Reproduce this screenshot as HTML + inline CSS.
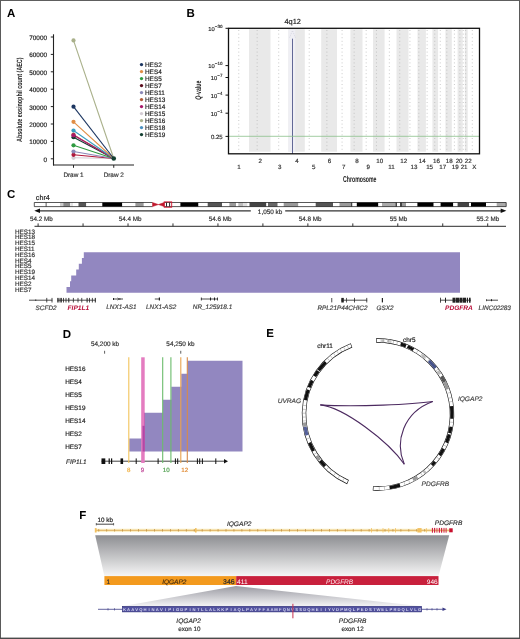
<!DOCTYPE html>
<html><head><meta charset="utf-8"><style>
html,body{margin:0;padding:0;background:#fff;}
body{width:520px;height:639px;overflow:hidden;}
svg{display:block;font-family:"Liberation Sans", sans-serif;text-rendering:geometricPrecision;will-change:transform;}
</style></head><body>
<svg width="520" height="639" viewBox="0 0 520 639">
<text x="7.00" y="17.00" font-size="11.5" font-weight="bold" fill="#000">A</text>
<line x1="53.50" y1="34.30" x2="53.50" y2="165.50" stroke="#222" stroke-width="1.1"/>
<line x1="53.00" y1="165.00" x2="134.00" y2="165.00" stroke="#222" stroke-width="1.1"/>
<line x1="50.80" y1="158.80" x2="53.50" y2="158.80" stroke="#222" stroke-width="1"/>
<text x="47.00" y="161.80" font-size="6.4" text-anchor="end" fill="#222" stroke="#222" stroke-width="0.18">0</text>
<line x1="50.80" y1="141.40" x2="53.50" y2="141.40" stroke="#222" stroke-width="1"/>
<text x="47.00" y="144.40" font-size="6.4" text-anchor="end" fill="#222" stroke="#222" stroke-width="0.18">10000</text>
<line x1="50.80" y1="124.00" x2="53.50" y2="124.00" stroke="#222" stroke-width="1"/>
<text x="47.00" y="127.00" font-size="6.4" text-anchor="end" fill="#222" stroke="#222" stroke-width="0.18">20000</text>
<line x1="50.80" y1="106.60" x2="53.50" y2="106.60" stroke="#222" stroke-width="1"/>
<text x="47.00" y="109.60" font-size="6.4" text-anchor="end" fill="#222" stroke="#222" stroke-width="0.18">30000</text>
<line x1="50.80" y1="89.20" x2="53.50" y2="89.20" stroke="#222" stroke-width="1"/>
<text x="47.00" y="92.20" font-size="6.4" text-anchor="end" fill="#222" stroke="#222" stroke-width="0.18">40000</text>
<line x1="50.80" y1="71.80" x2="53.50" y2="71.80" stroke="#222" stroke-width="1"/>
<text x="47.00" y="74.80" font-size="6.4" text-anchor="end" fill="#222" stroke="#222" stroke-width="0.18">50000</text>
<line x1="50.80" y1="54.40" x2="53.50" y2="54.40" stroke="#222" stroke-width="1"/>
<text x="47.00" y="57.40" font-size="6.4" text-anchor="end" fill="#222" stroke="#222" stroke-width="0.18">60000</text>
<line x1="50.80" y1="37.00" x2="53.50" y2="37.00" stroke="#222" stroke-width="1"/>
<text x="47.00" y="40.00" font-size="6.4" text-anchor="end" fill="#222" stroke="#222" stroke-width="0.18">70000</text>
<line x1="73.50" y1="165.00" x2="73.50" y2="167.80" stroke="#222" stroke-width="1"/>
<line x1="113.75" y1="165.00" x2="113.75" y2="167.80" stroke="#222" stroke-width="1"/>
<text x="73.50" y="176.70" font-size="6.4" text-anchor="middle" fill="#333" stroke="#333" stroke-width="0.18">Draw 1</text>
<text x="113.75" y="176.70" font-size="6.4" text-anchor="middle" fill="#333" stroke="#333" stroke-width="0.18">Draw 2</text>
<text x="0" y="0" font-size="7.6" font-weight="bold" fill="#222" text-anchor="middle" textLength="84.5" lengthAdjust="spacingAndGlyphs" transform="translate(22.1,99.75) rotate(-90)">Absolute eosinophil count (AEC)</text>
<line x1="73.50" y1="40.40" x2="113.75" y2="158.50" stroke="#a9b08a" stroke-width="1.1"/>
<line x1="73.50" y1="157.80" x2="113.75" y2="158.50" stroke="#d4ccd4" stroke-width="1.1"/>
<line x1="73.50" y1="154.80" x2="113.75" y2="158.50" stroke="#b0183c" stroke-width="1.1"/>
<line x1="73.50" y1="151.50" x2="113.75" y2="158.50" stroke="#8a88b8" stroke-width="1.1"/>
<line x1="73.50" y1="145.30" x2="113.75" y2="158.50" stroke="#2e9a40" stroke-width="1.1"/>
<line x1="73.50" y1="137.20" x2="113.75" y2="158.50" stroke="#123e30" stroke-width="1.1"/>
<line x1="73.50" y1="134.60" x2="113.75" y2="158.50" stroke="#b05a38" stroke-width="1.1"/>
<line x1="73.50" y1="135.30" x2="113.75" y2="158.50" stroke="#a8186a" stroke-width="1.1"/>
<line x1="73.50" y1="130.50" x2="113.75" y2="158.50" stroke="#3a9ec0" stroke-width="1.1"/>
<line x1="73.50" y1="121.80" x2="113.75" y2="158.50" stroke="#e08d45" stroke-width="1.1"/>
<line x1="73.50" y1="106.70" x2="113.75" y2="158.50" stroke="#1b3560" stroke-width="1.1"/>
<circle cx="73.50" cy="40.40" r="2.1" fill="#a9b08a"/>
<circle cx="73.50" cy="157.80" r="2.1" fill="#d4ccd4"/>
<circle cx="73.50" cy="154.80" r="2.1" fill="#b0183c"/>
<circle cx="73.50" cy="151.50" r="2.1" fill="#8a88b8"/>
<circle cx="73.50" cy="145.30" r="2.1" fill="#2e9a40"/>
<circle cx="73.50" cy="137.20" r="2.1" fill="#123e30"/>
<circle cx="73.50" cy="134.60" r="2.1" fill="#b05a38"/>
<circle cx="73.50" cy="135.30" r="2.1" fill="#a8186a"/>
<circle cx="73.50" cy="130.50" r="2.1" fill="#3a9ec0"/>
<circle cx="73.50" cy="121.80" r="2.1" fill="#e08d45"/>
<circle cx="73.50" cy="106.70" r="2.1" fill="#1b3560"/>
<circle cx="113.75" cy="158.50" r="2.3" fill="#123e30"/>
<circle cx="141.50" cy="64.60" r="1.65" fill="#1b3560"/>
<text x="145.00" y="66.90" font-size="6.4" fill="#222" stroke="#222" stroke-width="0.18">HES2</text>
<circle cx="141.50" cy="71.60" r="1.65" fill="#e08d45"/>
<text x="145.00" y="73.90" font-size="6.4" fill="#222" stroke="#222" stroke-width="0.18">HES4</text>
<circle cx="141.50" cy="78.60" r="1.65" fill="#2e9a40"/>
<text x="145.00" y="80.90" font-size="6.4" fill="#222" stroke="#222" stroke-width="0.18">HES5</text>
<circle cx="141.50" cy="85.60" r="1.65" fill="#5a0c1c"/>
<text x="145.00" y="87.90" font-size="6.4" fill="#222" stroke="#222" stroke-width="0.18">HES7</text>
<circle cx="141.50" cy="92.60" r="1.65" fill="#8a88b8"/>
<text x="145.00" y="94.90" font-size="6.4" fill="#222" stroke="#222" stroke-width="0.18">HES11</text>
<circle cx="141.50" cy="99.60" r="1.65" fill="#b05a38"/>
<text x="145.00" y="101.90" font-size="6.4" fill="#222" stroke="#222" stroke-width="0.18">HES13</text>
<circle cx="141.50" cy="106.60" r="1.65" fill="#a8186a"/>
<text x="145.00" y="108.90" font-size="6.4" fill="#222" stroke="#222" stroke-width="0.18">HES14</text>
<circle cx="141.50" cy="113.60" r="1.65" fill="#d4ccd4"/>
<text x="145.00" y="115.90" font-size="6.4" fill="#222" stroke="#222" stroke-width="0.18">HES15</text>
<circle cx="141.50" cy="120.60" r="1.65" fill="#a9b08a"/>
<text x="145.00" y="122.90" font-size="6.4" fill="#222" stroke="#222" stroke-width="0.18">HES16</text>
<circle cx="141.50" cy="127.60" r="1.65" fill="#4a90c0"/>
<text x="145.00" y="129.90" font-size="6.4" fill="#222" stroke="#222" stroke-width="0.18">HES18</text>
<circle cx="141.50" cy="134.60" r="1.65" fill="#123e30"/>
<text x="145.00" y="136.90" font-size="6.4" fill="#222" stroke="#222" stroke-width="0.18">HES19</text>
<text x="186.50" y="17.00" font-size="11.5" font-weight="bold" fill="#000">B</text>
<rect x="249.00" y="29.20" width="21.50" height="122.50" fill="#e9e9e9"/>
<rect x="288.30" y="29.20" width="16.50" height="122.50" fill="#e9e9e9"/>
<rect x="321.20" y="29.20" width="15.80" height="122.50" fill="#e9e9e9"/>
<rect x="350.40" y="29.20" width="12.10" height="122.50" fill="#e9e9e9"/>
<rect x="373.00" y="29.20" width="11.60" height="122.50" fill="#e9e9e9"/>
<rect x="396.50" y="29.20" width="12.00" height="122.50" fill="#e9e9e9"/>
<rect x="417.50" y="29.20" width="8.40" height="122.50" fill="#e9e9e9"/>
<rect x="432.40" y="29.20" width="5.70" height="122.50" fill="#e9e9e9"/>
<rect x="445.40" y="29.20" width="6.40" height="122.50" fill="#e9e9e9"/>
<rect x="457.60" y="29.20" width="5.10" height="122.50" fill="#e9e9e9"/>
<rect x="464.80" y="29.20" width="2.90" height="122.50" fill="#e9e9e9"/>
<line x1="238.75" y1="30.00" x2="238.75" y2="152.00" stroke="#b4b4b4" stroke-width="0.7" stroke-dasharray="1,2.6"/>
<line x1="257.17" y1="30.00" x2="257.17" y2="152.00" stroke="#b4b4b4" stroke-width="0.7" stroke-dasharray="1,2.6"/>
<line x1="278.69" y1="30.00" x2="278.69" y2="152.00" stroke="#b4b4b4" stroke-width="0.7" stroke-dasharray="1,2.6"/>
<line x1="292.59" y1="30.00" x2="292.59" y2="152.00" stroke="#b4b4b4" stroke-width="0.7" stroke-dasharray="1,2.6"/>
<line x1="309.23" y1="30.00" x2="309.23" y2="152.00" stroke="#b4b4b4" stroke-width="0.7" stroke-dasharray="1,2.6"/>
<line x1="326.89" y1="30.00" x2="326.89" y2="152.00" stroke="#b4b4b4" stroke-width="0.7" stroke-dasharray="1,2.6"/>
<line x1="342.09" y1="30.00" x2="342.09" y2="152.00" stroke="#b4b4b4" stroke-width="0.7" stroke-dasharray="1,2.6"/>
<line x1="354.15" y1="30.00" x2="354.15" y2="152.00" stroke="#b4b4b4" stroke-width="0.7" stroke-dasharray="1,2.6"/>
<line x1="366.18" y1="30.00" x2="366.18" y2="152.00" stroke="#b4b4b4" stroke-width="0.7" stroke-dasharray="1,2.6"/>
<line x1="376.48" y1="30.00" x2="376.48" y2="152.00" stroke="#b4b4b4" stroke-width="0.7" stroke-dasharray="1,2.6"/>
<line x1="389.36" y1="30.00" x2="389.36" y2="152.00" stroke="#b4b4b4" stroke-width="0.7" stroke-dasharray="1,2.6"/>
<line x1="399.74" y1="30.00" x2="399.74" y2="152.00" stroke="#b4b4b4" stroke-width="0.7" stroke-dasharray="1,2.6"/>
<line x1="409.94" y1="30.00" x2="409.94" y2="152.00" stroke="#b4b4b4" stroke-width="0.7" stroke-dasharray="1,2.6"/>
<line x1="418.84" y1="30.00" x2="418.84" y2="152.00" stroke="#b4b4b4" stroke-width="0.7" stroke-dasharray="1,2.6"/>
<line x1="427.13" y1="30.00" x2="427.13" y2="152.00" stroke="#b4b4b4" stroke-width="0.7" stroke-dasharray="1,2.6"/>
<line x1="434.74" y1="30.00" x2="434.74" y2="152.00" stroke="#b4b4b4" stroke-width="0.7" stroke-dasharray="1,2.6"/>
<line x1="440.29" y1="30.00" x2="440.29" y2="152.00" stroke="#b4b4b4" stroke-width="0.7" stroke-dasharray="1,2.6"/>
<line x1="446.81" y1="30.00" x2="446.81" y2="152.00" stroke="#b4b4b4" stroke-width="0.7" stroke-dasharray="1,2.6"/>
<line x1="454.41" y1="30.00" x2="454.41" y2="152.00" stroke="#b4b4b4" stroke-width="0.7" stroke-dasharray="1,2.6"/>
<line x1="459.84" y1="30.00" x2="459.84" y2="152.00" stroke="#b4b4b4" stroke-width="0.7" stroke-dasharray="1,2.6"/>
<line x1="463.27" y1="30.00" x2="463.27" y2="152.00" stroke="#b4b4b4" stroke-width="0.7" stroke-dasharray="1,2.6"/>
<line x1="465.64" y1="30.00" x2="465.64" y2="152.00" stroke="#b4b4b4" stroke-width="0.7" stroke-dasharray="1,2.6"/>
<line x1="472.30" y1="30.00" x2="472.30" y2="152.00" stroke="#b4b4b4" stroke-width="0.7" stroke-dasharray="1,2.6"/>
<rect x="288.30" y="29.20" width="7.00" height="122.50" fill="#efeff4"/>
<line x1="292.50" y1="38.70" x2="292.50" y2="153.80" stroke="#5a6090" stroke-width="0.95"/>
<path d="M289.6,37.5 L292.5,30.6 L295.4,37.5" fill="none" stroke="#c4c4d4" stroke-width="0.6" stroke-dasharray="1,1"/>
<line x1="228.50" y1="136.30" x2="479.50" y2="136.30" stroke="#8cc08c" stroke-width="0.8"/>
<rect x="228.5" y="28.3" width="251.0" height="125.50000000000001" fill="none" stroke="#111" stroke-width="1.3"/>
<text x="292.70" y="24.20" font-size="7.4" text-anchor="middle" fill="#222" stroke="#222" stroke-width="0.18">4q12</text>
<line x1="225.50" y1="28.30" x2="228.50" y2="28.30" stroke="#111" stroke-width="1"/>
<text x="222.4" y="30.80" font-size="5.8" text-anchor="end" fill="#222" stroke="#222" stroke-width="0.15">10<tspan font-size="4.5" dy="-3">&#8722;30</tspan></text>
<line x1="225.50" y1="65.60" x2="228.50" y2="65.60" stroke="#111" stroke-width="1"/>
<text x="222.4" y="68.10" font-size="5.8" text-anchor="end" fill="#222" stroke="#222" stroke-width="0.15">10<tspan font-size="4.5" dy="-3">&#8722;10</tspan></text>
<line x1="225.50" y1="77.50" x2="228.50" y2="77.50" stroke="#111" stroke-width="1"/>
<text x="222.4" y="80.00" font-size="5.8" text-anchor="end" fill="#222" stroke="#222" stroke-width="0.15">10<tspan font-size="4.5" dy="-3">&#8722;7</tspan></text>
<line x1="225.50" y1="95.10" x2="228.50" y2="95.10" stroke="#111" stroke-width="1"/>
<text x="222.4" y="97.60" font-size="5.8" text-anchor="end" fill="#222" stroke="#222" stroke-width="0.15">10<tspan font-size="4.5" dy="-3">&#8722;4</tspan></text>
<line x1="225.50" y1="113.20" x2="228.50" y2="113.20" stroke="#111" stroke-width="1"/>
<text x="222.4" y="115.70" font-size="5.8" text-anchor="end" fill="#222" stroke="#222" stroke-width="0.15">10<tspan font-size="4.5" dy="-3">&#8722;1</tspan></text>
<line x1="225.50" y1="136.40" x2="228.50" y2="136.40" stroke="#111" stroke-width="1"/>
<text x="222.70" y="138.70" font-size="6" text-anchor="end" fill="#333" stroke="#333" stroke-width="0.18">0.25</text>
<text x="0" y="0" font-size="8.2" font-weight="bold" fill="#222" text-anchor="middle" textLength="19.1" lengthAdjust="spacingAndGlyphs" transform="translate(201.4,90.2) rotate(-90)"><tspan font-style="italic">Q</tspan>-value</text>
<text x="239.00" y="169.10" font-size="6.2" text-anchor="middle" fill="#333" stroke="#333" stroke-width="0.18">1</text>
<text x="260.20" y="162.60" font-size="6.2" text-anchor="middle" fill="#333" stroke="#333" stroke-width="0.18">2</text>
<text x="279.80" y="169.10" font-size="6.2" text-anchor="middle" fill="#333" stroke="#333" stroke-width="0.18">3</text>
<text x="297.00" y="162.60" font-size="6.2" text-anchor="middle" fill="#333" stroke="#333" stroke-width="0.18">4</text>
<text x="313.80" y="169.10" font-size="6.2" text-anchor="middle" fill="#333" stroke="#333" stroke-width="0.18">5</text>
<text x="329.40" y="162.60" font-size="6.2" text-anchor="middle" fill="#333" stroke="#333" stroke-width="0.18">6</text>
<text x="343.80" y="169.10" font-size="6.2" text-anchor="middle" fill="#333" stroke="#333" stroke-width="0.18">7</text>
<text x="357.10" y="162.60" font-size="6.2" text-anchor="middle" fill="#333" stroke="#333" stroke-width="0.18">8</text>
<text x="368.30" y="169.10" font-size="6.2" text-anchor="middle" fill="#333" stroke="#333" stroke-width="0.18">9</text>
<text x="379.80" y="162.60" font-size="6.2" text-anchor="middle" fill="#333" stroke="#333" stroke-width="0.18">10</text>
<text x="391.50" y="169.10" font-size="6.2" text-anchor="middle" fill="#333" stroke="#333" stroke-width="0.18">11</text>
<text x="403.70" y="162.60" font-size="6.2" text-anchor="middle" fill="#333" stroke="#333" stroke-width="0.18">12</text>
<text x="414.00" y="169.10" font-size="6.2" text-anchor="middle" fill="#333" stroke="#333" stroke-width="0.18">13</text>
<text x="422.30" y="162.60" font-size="6.2" text-anchor="middle" fill="#333" stroke="#333" stroke-width="0.18">14</text>
<text x="429.60" y="169.10" font-size="6.2" text-anchor="middle" fill="#333" stroke="#333" stroke-width="0.18">15</text>
<text x="436.50" y="162.60" font-size="6.2" text-anchor="middle" fill="#333" stroke="#333" stroke-width="0.18">16</text>
<text x="442.80" y="169.10" font-size="6.2" text-anchor="middle" fill="#333" stroke="#333" stroke-width="0.18">17</text>
<text x="449.20" y="162.60" font-size="6.2" text-anchor="middle" fill="#333" stroke="#333" stroke-width="0.18">18</text>
<text x="455.30" y="169.10" font-size="6.2" text-anchor="middle" fill="#333" stroke="#333" stroke-width="0.18">19</text>
<text x="459.10" y="162.60" font-size="6.2" text-anchor="middle" fill="#333" stroke="#333" stroke-width="0.18">20</text>
<text x="464.10" y="169.10" font-size="6.2" text-anchor="middle" fill="#333" stroke="#333" stroke-width="0.18">21</text>
<text x="468.20" y="162.60" font-size="6.2" text-anchor="middle" fill="#333" stroke="#333" stroke-width="0.18">22</text>
<text x="474.30" y="169.10" font-size="6.2" text-anchor="middle" fill="#333" stroke="#333" stroke-width="0.18">X</text>
<text x="359.8" y="181.9" font-size="8.6" font-weight="bold" fill="#222" text-anchor="middle" textLength="33.4" lengthAdjust="spacingAndGlyphs">Chromosome</text>
<text x="7.00" y="198.00" font-size="11.5" font-weight="bold" fill="#000">C</text>
<text x="35.80" y="200.10" font-size="7.2" fill="#222" stroke="#222" stroke-width="0.18">chr4</text>
<rect x="34.30" y="202.50" width="11.10" height="4.10" fill="#fff"/>
<rect x="45.40" y="202.50" width="1.60" height="4.10" fill="#999"/>
<rect x="47.00" y="202.50" width="13.00" height="4.10" fill="#fff"/>
<rect x="60.00" y="202.50" width="3.30" height="4.10" fill="#ccc"/>
<rect x="63.30" y="202.50" width="7.10" height="4.10" fill="#888"/>
<rect x="70.40" y="202.50" width="1.20" height="4.10" fill="#fff"/>
<rect x="71.60" y="202.50" width="1.00" height="4.10" fill="#bbb"/>
<rect x="72.60" y="202.50" width="5.90" height="4.10" fill="#fff"/>
<rect x="78.50" y="202.50" width="7.90" height="4.10" fill="#555"/>
<rect x="86.20" y="202.50" width="16.10" height="4.10" fill="#fff"/>
<rect x="102.30" y="202.50" width="20.00" height="4.10" fill="#000"/>
<rect x="122.30" y="202.50" width="13.10" height="4.10" fill="#fff"/>
<rect x="135.40" y="202.50" width="8.40" height="4.10" fill="#999"/>
<rect x="143.80" y="202.50" width="8.70" height="4.10" fill="#fff"/>
<rect x="164.20" y="202.50" width="7.50" height="4.10" fill="#fff"/>
<rect x="171.70" y="202.50" width="8.70" height="4.10" fill="#fff"/>
<rect x="180.40" y="202.50" width="18.10" height="4.10" fill="#000"/>
<rect x="198.50" y="202.50" width="9.20" height="4.10" fill="#fff"/>
<rect x="207.70" y="202.50" width="14.40" height="4.10" fill="#555"/>
<rect x="222.10" y="202.50" width="7.30" height="4.10" fill="#fff"/>
<rect x="229.40" y="202.50" width="6.60" height="4.10" fill="#999"/>
<rect x="236.00" y="202.50" width="2.30" height="4.10" fill="#fff"/>
<rect x="238.30" y="202.50" width="5.10" height="4.10" fill="#bbb"/>
<rect x="243.40" y="202.50" width="4.10" height="4.10" fill="#ddd"/>
<rect x="247.50" y="202.50" width="2.00" height="4.10" fill="#fff"/>
<rect x="249.50" y="202.50" width="16.90" height="4.10" fill="#444"/>
<rect x="266.40" y="202.50" width="1.60" height="4.10" fill="#fff"/>
<rect x="268.00" y="202.50" width="9.70" height="4.10" fill="#666"/>
<rect x="277.70" y="202.50" width="6.00" height="4.10" fill="#fff"/>
<rect x="283.70" y="202.50" width="14.70" height="4.10" fill="#999"/>
<rect x="298.40" y="202.50" width="17.30" height="4.10" fill="#fff"/>
<rect x="315.70" y="202.50" width="17.30" height="4.10" fill="#555"/>
<rect x="333.00" y="202.50" width="6.50" height="4.10" fill="#fff"/>
<rect x="339.50" y="202.50" width="11.30" height="4.10" fill="#999"/>
<rect x="350.80" y="202.50" width="1.70" height="4.10" fill="#444"/>
<rect x="352.50" y="202.50" width="4.30" height="4.10" fill="#fff"/>
<rect x="356.80" y="202.50" width="21.60" height="4.10" fill="#000"/>
<rect x="378.40" y="202.50" width="3.60" height="4.10" fill="#fff"/>
<rect x="382.00" y="202.50" width="13.40" height="4.10" fill="#aaa"/>
<rect x="395.40" y="202.50" width="1.60" height="4.10" fill="#444"/>
<rect x="397.00" y="202.50" width="3.00" height="4.10" fill="#fff"/>
<rect x="400.00" y="202.50" width="2.00" height="4.10" fill="#444"/>
<rect x="402.00" y="202.50" width="4.00" height="4.10" fill="#999"/>
<rect x="406.00" y="202.50" width="11.40" height="4.10" fill="#fff"/>
<rect x="417.40" y="202.50" width="16.30" height="4.10" fill="#000"/>
<rect x="433.70" y="202.50" width="6.90" height="4.10" fill="#fff"/>
<rect x="440.60" y="202.50" width="12.70" height="4.10" fill="#000"/>
<rect x="453.30" y="202.50" width="4.30" height="4.10" fill="#fff"/>
<rect x="457.60" y="202.50" width="11.40" height="4.10" fill="#444"/>
<rect x="469.00" y="202.50" width="1.50" height="4.10" fill="#fff"/>
<rect x="470.00" y="202.50" width="1.00" height="4.10" fill="#fff"/>
<rect x="471.00" y="202.50" width="15.00" height="4.10" fill="#000"/>
<rect x="486.00" y="202.50" width="10.70" height="4.10" fill="#fff"/>
<rect x="496.70" y="202.50" width="9.50" height="4.10" fill="#aaa"/>
<path d="M152.5,202.5 L34.3,202.5 L34.3,206.6 L152.5,206.6 M164.2,202.5 L506.2,202.5 L506.2,206.6 L164.2,206.6" fill="none" stroke="#111" stroke-width="0.7"/>
<path d="M152.5,202.5 L158.4,204.55 L152.5,206.6 Z M164.2,202.5 L158.4,204.55 L164.2,206.6 Z" fill="#c0182c" stroke="#c0182c" stroke-width="0.5"/>
<rect x="166.00" y="202.50" width="0.90" height="4.10" fill="#111"/>
<rect x="169.20" y="202.50" width="0.90" height="4.10" fill="#111"/>
<rect x="164.2" y="201.9" width="7.5" height="5.2999999999999945" fill="none" stroke="#d0102a" stroke-width="0.9"/>
<line x1="37.00" y1="210.80" x2="250.80" y2="210.80" stroke="#333" stroke-width="1.2"/>
<line x1="285.20" y1="210.80" x2="503.00" y2="210.80" stroke="#333" stroke-width="1.2"/>
<path d="M34.3,210.8 L40,208.60000000000002 L40,213.0 Z" fill="#111"/>
<path d="M506.4,210.8 L500.7,208.60000000000002 L500.7,213.0 Z" fill="#111"/>
<text x="270.10" y="213.60" font-size="6.4" text-anchor="middle" fill="#333" stroke="#333" stroke-width="0.18">1,050 kb</text>
<line x1="34.50" y1="226.40" x2="506.00" y2="226.40" stroke="#555" stroke-width="1.4"/>
<line x1="38.10" y1="226.40" x2="38.10" y2="223.40" stroke="#333" stroke-width="1.0"/>
<text x="41.50" y="221.00" font-size="6.3" text-anchor="middle" fill="#333" stroke="#333" stroke-width="0.18">54.2 Mb</text>
<line x1="83.06" y1="226.40" x2="83.06" y2="223.40" stroke="#333" stroke-width="1.0"/>
<line x1="128.02" y1="226.40" x2="128.02" y2="223.40" stroke="#333" stroke-width="1.0"/>
<text x="130.15" y="221.00" font-size="6.3" text-anchor="middle" fill="#333" stroke="#333" stroke-width="0.18">54.4 Mb</text>
<line x1="172.98" y1="226.40" x2="172.98" y2="223.40" stroke="#333" stroke-width="1.0"/>
<line x1="217.94" y1="226.40" x2="217.94" y2="223.40" stroke="#333" stroke-width="1.0"/>
<text x="220.25" y="221.00" font-size="6.3" text-anchor="middle" fill="#333" stroke="#333" stroke-width="0.18">54.6 Mb</text>
<line x1="262.90" y1="226.40" x2="262.90" y2="223.40" stroke="#333" stroke-width="1.0"/>
<line x1="307.86" y1="226.40" x2="307.86" y2="223.40" stroke="#333" stroke-width="1.0"/>
<text x="310.25" y="221.00" font-size="6.3" text-anchor="middle" fill="#333" stroke="#333" stroke-width="0.18">54.8 Mb</text>
<line x1="352.82" y1="226.40" x2="352.82" y2="223.40" stroke="#333" stroke-width="1.0"/>
<line x1="397.78" y1="226.40" x2="397.78" y2="223.40" stroke="#333" stroke-width="1.0"/>
<text x="398.50" y="221.00" font-size="6.3" text-anchor="middle" fill="#333" stroke="#333" stroke-width="0.18">55 Mb</text>
<line x1="442.74" y1="226.40" x2="442.74" y2="223.40" stroke="#333" stroke-width="1.0"/>
<line x1="487.70" y1="226.40" x2="487.70" y2="223.40" stroke="#333" stroke-width="1.0"/>
<text x="488.00" y="221.00" font-size="6.3" text-anchor="middle" fill="#333" stroke="#333" stroke-width="0.18">55.2 Mb</text>
<text x="15.00" y="233.50" font-size="6.3" fill="#333" stroke="#333" stroke-width="0.18">HES13</text>
<text x="15.00" y="239.30" font-size="6.3" fill="#333" stroke="#333" stroke-width="0.18">HES18</text>
<text x="15.00" y="245.10" font-size="6.3" fill="#333" stroke="#333" stroke-width="0.18">HES15</text>
<text x="15.00" y="250.90" font-size="6.3" fill="#333" stroke="#333" stroke-width="0.18">HES11</text>
<text x="15.00" y="256.70" font-size="6.3" fill="#333" stroke="#333" stroke-width="0.18">HES16</text>
<text x="15.00" y="262.50" font-size="6.3" fill="#333" stroke="#333" stroke-width="0.18">HES4</text>
<text x="15.00" y="268.30" font-size="6.3" fill="#333" stroke="#333" stroke-width="0.18">HES5</text>
<text x="15.00" y="274.10" font-size="6.3" fill="#333" stroke="#333" stroke-width="0.18">HES19</text>
<text x="15.00" y="279.90" font-size="6.3" fill="#333" stroke="#333" stroke-width="0.18">HES14</text>
<text x="15.00" y="285.70" font-size="6.3" fill="#333" stroke="#333" stroke-width="0.18">HES2</text>
<text x="15.00" y="291.50" font-size="6.3" fill="#333" stroke="#333" stroke-width="0.18">HES7</text>
<path d="M460,252.3 L83.8,252.3 L83.8,252.30 L83.8,258.07 L81.9,258.07 L81.9,263.84 L78.8,263.84 L78.8,269.61 L76.2,269.61 L76.2,275.38 L71.2,275.38 L71.2,281.15 L70,281.15 L70,286.92 L66.5,286.92 L66.5,292.69 L460,292.69 Z" fill="#9287c0"/>
<line x1="29.00" y1="300.20" x2="52.40" y2="300.20" stroke="#222" stroke-width="0.8"/>
<rect x="46.40" y="297.90" width="0.80" height="4.60" fill="#222"/>
<rect x="51.60" y="297.90" width="0.80" height="4.60" fill="#222"/>
<rect x="35.40" y="299.40" width="0.80" height="1.60" fill="#222"/>
<line x1="57.50" y1="300.20" x2="95.70" y2="300.20" stroke="#222" stroke-width="0.8"/>
<rect x="57.30" y="297.90" width="1.30" height="4.60" fill="#222"/>
<rect x="59.60" y="297.90" width="1.00" height="4.60" fill="#222"/>
<rect x="61.00" y="297.90" width="0.80" height="4.60" fill="#222"/>
<rect x="63.00" y="297.90" width="0.80" height="4.60" fill="#222"/>
<rect x="65.60" y="297.90" width="0.80" height="4.60" fill="#222"/>
<rect x="68.30" y="297.90" width="1.00" height="4.60" fill="#222"/>
<rect x="72.90" y="297.90" width="0.80" height="4.60" fill="#222"/>
<rect x="77.60" y="297.90" width="0.80" height="4.60" fill="#222"/>
<rect x="81.40" y="297.90" width="0.80" height="4.60" fill="#222"/>
<rect x="86.60" y="297.90" width="1.00" height="4.60" fill="#222"/>
<rect x="89.10" y="297.90" width="0.80" height="4.60" fill="#222"/>
<rect x="91.90" y="297.90" width="0.80" height="4.60" fill="#222"/>
<rect x="94.80" y="297.90" width="1.00" height="4.60" fill="#222"/>
<line x1="113.00" y1="299.00" x2="123.00" y2="299.00" stroke="#222" stroke-width="0.8"/>
<rect x="113.00" y="298.00" width="1.00" height="2.00" fill="#222"/>
<rect x="119.50" y="298.00" width="0.80" height="2.00" fill="#222"/>
<path d="M117.5,297.8 L119,299.0 L117.5,300.2" fill="none" stroke="#222" stroke-width="0.6"/>
<line x1="154.80" y1="299.00" x2="160.00" y2="299.00" stroke="#222" stroke-width="0.8"/>
<rect x="158.80" y="297.50" width="1.20" height="3.00" fill="#222"/>
<line x1="200.90" y1="299.00" x2="218.00" y2="299.00" stroke="#222" stroke-width="0.8"/>
<rect x="200.90" y="297.50" width="0.80" height="3.00" fill="#222"/>
<rect x="210.00" y="297.50" width="1.00" height="3.00" fill="#222"/>
<rect x="214.00" y="297.50" width="1.00" height="3.00" fill="#222"/>
<rect x="217.20" y="297.50" width="0.80" height="3.00" fill="#222"/>
<rect x="331.40" y="298.00" width="0.80" height="4.40" fill="#222"/>
<line x1="341.30" y1="300.20" x2="367.20" y2="300.20" stroke="#222" stroke-width="0.8"/>
<rect x="341.30" y="297.90" width="2.50" height="4.60" fill="#222"/>
<rect x="346.30" y="297.90" width="0.70" height="4.60" fill="#222"/>
<rect x="354.00" y="297.90" width="0.80" height="4.60" fill="#222"/>
<rect x="366.40" y="297.90" width="0.80" height="4.60" fill="#222"/>
<rect x="381.80" y="298.00" width="1.20" height="4.40" fill="#222"/>
<line x1="440.20" y1="300.20" x2="471.00" y2="300.20" stroke="#222" stroke-width="0.8"/>
<rect x="440.20" y="297.70" width="0.80" height="5.00" fill="#222"/>
<rect x="445.00" y="297.70" width="1.00" height="5.00" fill="#222"/>
<rect x="452.50" y="297.70" width="3.00" height="5.00" fill="#222"/>
<rect x="455.90" y="297.70" width="3.10" height="5.00" fill="#222"/>
<rect x="459.40" y="297.70" width="3.10" height="5.00" fill="#222"/>
<rect x="462.90" y="297.70" width="3.10" height="5.00" fill="#222"/>
<rect x="466.80" y="297.70" width="1.20" height="5.00" fill="#222"/>
<rect x="469.00" y="297.70" width="1.60" height="5.00" fill="#222"/>
<line x1="486.30" y1="300.20" x2="498.00" y2="300.20" stroke="#222" stroke-width="0.8"/>
<rect x="486.30" y="299.20" width="0.70" height="2.00" fill="#222"/>
<rect x="491.00" y="299.20" width="1.00" height="2.00" fill="#222"/>
<text x="35.60" y="309.60" font-size="6.4" font-style="italic" fill="#444" stroke="#444" stroke-width="0.18">SCFD2</text>
<text x="67.60" y="309.60" font-size="6.6" font-weight="bold" font-style="italic" fill="#b8103a">FIP1L1</text>
<text x="106.30" y="309.40" font-size="6.4" font-style="italic" fill="#444" stroke="#444" stroke-width="0.18">LNX1-AS1</text>
<text x="146.00" y="309.40" font-size="6.4" font-style="italic" fill="#444" stroke="#444" stroke-width="0.18">LNX1-AS2</text>
<text x="192.80" y="309.40" font-size="6.4" font-style="italic" fill="#444" stroke="#444" stroke-width="0.18">NR_125918.1</text>
<text x="317.40" y="309.60" font-size="6.4" font-style="italic" fill="#444" stroke="#444" stroke-width="0.18">RPL21P44CHIC2</text>
<text x="376.50" y="309.60" font-size="6.4" font-style="italic" fill="#444" stroke="#444" stroke-width="0.18">GSX2</text>
<text x="445.00" y="309.60" font-size="6.6" font-weight="bold" font-style="italic" fill="#b8103a">PDGFRA</text>
<text x="478.60" y="309.60" font-size="6.4" font-style="italic" fill="#444" stroke="#444" stroke-width="0.18">LINC02283</text>
<text x="62.70" y="338.10" font-size="11.5" font-weight="bold" fill="#000">D</text>
<text x="105.00" y="346.40" font-size="6.4" text-anchor="middle" fill="#333" stroke="#333" stroke-width="0.18">54,200 kb</text>
<text x="180.40" y="346.40" font-size="6.4" text-anchor="middle" fill="#333" stroke="#333" stroke-width="0.18">54,250 kb</text>
<line x1="104.60" y1="350.80" x2="104.60" y2="353.70" stroke="#333" stroke-width="0.8"/>
<line x1="180.75" y1="350.80" x2="180.75" y2="353.70" stroke="#333" stroke-width="0.8"/>
<text x="65.20" y="371.30" font-size="6.4" fill="#222" stroke="#222" stroke-width="0.18">HES16</text>
<text x="65.20" y="384.30" font-size="6.4" fill="#222" stroke="#222" stroke-width="0.18">HES4</text>
<text x="65.20" y="397.30" font-size="6.4" fill="#222" stroke="#222" stroke-width="0.18">HES5</text>
<text x="65.20" y="410.30" font-size="6.4" fill="#222" stroke="#222" stroke-width="0.18">HES19</text>
<text x="65.20" y="423.30" font-size="6.4" fill="#222" stroke="#222" stroke-width="0.18">HES14</text>
<text x="65.20" y="436.30" font-size="6.4" fill="#222" stroke="#222" stroke-width="0.18">HES2</text>
<text x="65.20" y="449.30" font-size="6.4" fill="#222" stroke="#222" stroke-width="0.18">HES7</text>
<path d="M242.5,360.8 L187.5,360.8 L187.5,360.80 L187.5,373.76 L181.25,373.76 L181.25,386.72 L171.25,386.72 L171.25,399.68 L163,399.68 L163,412.64 L144.25,412.64 L144.25,425.60 L142.5,425.60 L142.5,438.56 L129.25,438.56 L129.25,451.52 L242.5,451.52 Z" fill="#9287c0"/>
<line x1="101.50" y1="461.20" x2="225.00" y2="461.20" stroke="#111" stroke-width="0.8"/>
<path d="M228,461.2 L224,459.0 L224,463.4 Z" fill="#111"/>
<rect x="101.50" y="458.40" width="3.80" height="5.60" fill="#111"/>
<rect x="108.60" y="458.40" width="1.20" height="5.60" fill="#111"/>
<rect x="111.00" y="458.40" width="1.20" height="5.60" fill="#111"/>
<rect x="120.50" y="458.40" width="2.60" height="5.60" fill="#111"/>
<rect x="135.70" y="458.40" width="1.00" height="5.60" fill="#111"/>
<rect x="157.60" y="458.40" width="1.00" height="5.60" fill="#111"/>
<rect x="174.90" y="458.40" width="1.00" height="5.60" fill="#111"/>
<rect x="177.20" y="458.40" width="1.00" height="5.60" fill="#111"/>
<rect x="196.90" y="458.40" width="1.00" height="5.60" fill="#111"/>
<rect x="199.20" y="458.40" width="1.00" height="5.60" fill="#111"/>
<rect x="201.90" y="458.40" width="1.00" height="5.60" fill="#111"/>
<rect x="215.30" y="458.40" width="1.00" height="5.60" fill="#111"/>
<rect x="141.2" y="357.3" width="3.5" height="105.7" fill="#e47cc0"/>
<rect x="142.5" y="425.8" width="2.3" height="25.7" fill="#b248a6"/>
<rect x="144.25" y="412.8" width="0.55" height="13" fill="#b248a6"/>
<line x1="128.80" y1="357.30" x2="128.80" y2="463.00" stroke="#f2c35a" stroke-width="1.1"/>
<line x1="162.70" y1="357.30" x2="162.70" y2="463.00" stroke="#6cbc6c" stroke-width="1.1"/>
<line x1="170.90" y1="357.30" x2="170.90" y2="463.00" stroke="#6cbc6c" stroke-width="1.1"/>
<line x1="180.80" y1="357.30" x2="180.80" y2="463.00" stroke="#eaa24c" stroke-width="1.1"/>
<line x1="187.30" y1="357.30" x2="187.30" y2="463.00" stroke="#d88a48" stroke-width="1.1"/>
<text x="128.80" y="472.30" font-size="6.2" text-anchor="middle" fill="#f0b040" stroke="#f0b040" stroke-width="0.18">8</text>
<text x="142.60" y="472.30" font-size="6.2" text-anchor="middle" fill="#c04898" stroke="#c04898" stroke-width="0.18">9</text>
<text x="166.20" y="472.30" font-size="6.2" text-anchor="middle" fill="#50a050" stroke="#50a050" stroke-width="0.18">10</text>
<text x="184.70" y="472.30" font-size="6.2" text-anchor="middle" fill="#e08830" stroke="#e08830" stroke-width="0.18">12</text>
<text x="66.00" y="464.00" font-size="6.4" font-style="italic" fill="#333" stroke="#333" stroke-width="0.18">FIP1L1</text>
<text x="266.20" y="337.10" font-size="11.5" font-weight="bold" fill="#000">E</text>
<path d="M376.13,340.52 A74,74 0 1 1 372.90,488.32" fill="none" stroke="#111" stroke-width="4.4"/>
<path d="M376.71,340.51 A74,74 0 1 1 373.48,488.36" fill="none" stroke="#fff" stroke-width="3.2"/>
<path d="M400.62,344.04 A74,74 0 0 1 405.96,345.99" fill="none" stroke="#111" stroke-width="3.2"/>
<path d="M407.51,346.64 A74,74 0 0 1 413.42,349.53" fill="none" stroke="#111" stroke-width="3.2"/>
<path d="M380.58,340.55 A74,74 0 0 1 384.45,340.78" fill="none" stroke="#ccc" stroke-width="3.2"/>
<path d="M387.02,341.05 A74,74 0 0 1 391.49,341.74" fill="none" stroke="#ccc" stroke-width="3.2"/>
<path d="M422.02,355.01 A74,74 0 0 1 425.07,357.40" fill="none" stroke="#bbb" stroke-width="3.2"/>
<path d="M428.94,360.82 A74,74 0 0 1 435.51,367.93" fill="none" stroke="#46528a" stroke-width="3.2"/>
<path d="M441.43,376.39 A74,74 0 0 1 444.51,382.06" fill="none" stroke="#555" stroke-width="3.2"/>
<path d="M444.51,382.06 A74,74 0 0 1 447.54,389.19" fill="none" stroke="#999" stroke-width="3.2"/>
<path d="M451.52,406.12 A74,74 0 0 1 451.88,418.76" fill="none" stroke="#111" stroke-width="3.2"/>
<path d="M450.99,426.71 A74,74 0 0 1 449.61,433.15" fill="none" stroke="#111" stroke-width="3.2"/>
<path d="M449.27,434.40 A74,74 0 0 1 446.47,442.58" fill="none" stroke="#111" stroke-width="3.2"/>
<path d="M443.58,448.78 A74,74 0 0 1 439.64,455.45" fill="none" stroke="#111" stroke-width="3.2"/>
<path d="M435.02,461.67 A74,74 0 0 1 431.94,465.16" fill="none" stroke="#111" stroke-width="3.2"/>
<path d="M417.43,477.12 A74,74 0 0 1 412.97,479.72" fill="none" stroke="#999" stroke-width="3.2"/>
<path d="M400.01,485.15 A74,74 0 0 1 389.58,487.59" fill="none" stroke="#111" stroke-width="3.2"/>
<path d="M437.87,371.00 A74,74 0 0 1 440.06,374.20" fill="none" stroke="#bbb" stroke-width="3.2"/>
<path d="M425.57,471.19 A74,74 0 0 1 423.56,472.81" fill="none" stroke="#bbb" stroke-width="3.2"/>
<line x1="383.04" y1="342.38" x2="383.28" y2="338.98" stroke="#666" stroke-width="0.35"/>
<line x1="388.06" y1="342.90" x2="388.54" y2="339.54" stroke="#666" stroke-width="0.35"/>
<line x1="393.03" y1="343.78" x2="393.74" y2="340.45" stroke="#666" stroke-width="0.35"/>
<line x1="396.71" y1="344.66" x2="397.59" y2="341.38" stroke="#666" stroke-width="0.35"/>
<line x1="416.31" y1="353.19" x2="418.11" y2="350.30" stroke="#666" stroke-width="0.35"/>
<line x1="420.50" y1="356.01" x2="422.50" y2="353.26" stroke="#666" stroke-width="0.35"/>
<line x1="424.47" y1="359.11" x2="426.66" y2="356.51" stroke="#666" stroke-width="0.35"/>
<line x1="427.31" y1="361.62" x2="429.63" y2="359.14" stroke="#666" stroke-width="0.35"/>
<line x1="435.74" y1="370.99" x2="438.46" y2="368.94" stroke="#666" stroke-width="0.35"/>
<line x1="447.14" y1="393.36" x2="450.39" y2="392.37" stroke="#666" stroke-width="0.35"/>
<line x1="448.45" y1="398.24" x2="451.76" y2="397.47" stroke="#666" stroke-width="0.35"/>
<line x1="449.20" y1="401.95" x2="452.55" y2="401.35" stroke="#666" stroke-width="0.35"/>
<line x1="449.90" y1="422.06" x2="453.29" y2="422.41" stroke="#666" stroke-width="0.35"/>
<line x1="443.53" y1="445.06" x2="446.61" y2="446.49" stroke="#666" stroke-width="0.35"/>
<line x1="436.49" y1="457.00" x2="439.24" y2="459.00" stroke="#666" stroke-width="0.35"/>
<line x1="427.31" y1="467.38" x2="429.63" y2="469.86" stroke="#666" stroke-width="0.35"/>
<line x1="420.50" y1="472.99" x2="422.50" y2="475.74" stroke="#666" stroke-width="0.35"/>
<line x1="408.56" y1="480.03" x2="409.99" y2="483.11" stroke="#666" stroke-width="0.35"/>
<line x1="403.91" y1="482.00" x2="405.13" y2="485.17" stroke="#666" stroke-width="0.35"/>
<line x1="384.30" y1="486.52" x2="384.60" y2="489.91" stroke="#666" stroke-width="0.35"/>
<line x1="379.26" y1="486.79" x2="379.32" y2="490.19" stroke="#666" stroke-width="0.35"/>
<path d="M347.96,482.13 A74,74 0 0 1 351.54,345.39" fill="none" stroke="#111" stroke-width="4.4"/>
<path d="M347.43,481.89 A74,74 0 0 1 351.00,345.60" fill="none" stroke="#fff" stroke-width="3.2"/>
<path d="M325.04,466.18 A74,74 0 0 1 320.25,460.77" fill="none" stroke="#111" stroke-width="3.2"/>
<path d="M319.69,460.06 A74,74 0 0 1 316.65,455.88" fill="none" stroke="#999" stroke-width="3.2"/>
<path d="M313.59,450.94 A74,74 0 0 1 309.58,442.70" fill="none" stroke="#111" stroke-width="3.2"/>
<path d="M306.97,435.27 A74,74 0 0 1 305.04,426.84" fill="none" stroke="#55609a" stroke-width="3.2"/>
<path d="M305.04,426.84 A74,74 0 0 1 304.43,422.49" fill="none" stroke="#999" stroke-width="3.2"/>
<path d="M305.41,400.13 A74,74 0 0 1 308.24,389.80" fill="none" stroke="#111" stroke-width="3.2"/>
<path d="M309.15,387.38 A74,74 0 0 1 312.30,380.45" fill="none" stroke="#111" stroke-width="3.2"/>
<path d="M314.64,376.28 A74,74 0 0 1 318.13,371.00" fill="none" stroke="#111" stroke-width="3.2"/>
<path d="M318.59,370.38 A74,74 0 0 1 325.77,362.08" fill="none" stroke="#111" stroke-width="3.2"/>
<line x1="344.06" y1="478.34" x2="342.46" y2="481.34" stroke="#666" stroke-width="0.35"/>
<line x1="339.69" y1="475.81" x2="337.89" y2="478.70" stroke="#666" stroke-width="0.35"/>
<line x1="335.50" y1="472.99" x2="333.50" y2="475.74" stroke="#666" stroke-width="0.35"/>
<line x1="331.53" y1="469.89" x2="329.34" y2="472.49" stroke="#666" stroke-width="0.35"/>
<line x1="328.69" y1="467.38" x2="326.37" y2="469.86" stroke="#666" stroke-width="0.35"/>
<line x1="316.69" y1="452.81" x2="313.80" y2="454.61" stroke="#666" stroke-width="0.35"/>
<line x1="309.64" y1="438.04" x2="306.42" y2="439.15" stroke="#666" stroke-width="0.35"/>
<line x1="305.98" y1="420.80" x2="302.59" y2="421.10" stroke="#666" stroke-width="0.35"/>
<line x1="305.74" y1="417.02" x2="302.35" y2="417.14" stroke="#666" stroke-width="0.35"/>
<line x1="305.71" y1="413.24" x2="302.31" y2="413.18" stroke="#666" stroke-width="0.35"/>
<line x1="305.88" y1="409.46" x2="302.48" y2="409.22" stroke="#666" stroke-width="0.35"/>
<line x1="306.24" y1="405.69" x2="302.86" y2="405.27" stroke="#666" stroke-width="0.35"/>
<line x1="329.62" y1="360.77" x2="327.35" y2="358.24" stroke="#666" stroke-width="0.35"/>
<line x1="332.50" y1="358.31" x2="330.36" y2="355.67" stroke="#666" stroke-width="0.35"/>
<line x1="335.50" y1="356.01" x2="333.50" y2="353.26" stroke="#666" stroke-width="0.35"/>
<line x1="338.62" y1="353.86" x2="336.77" y2="351.01" stroke="#666" stroke-width="0.35"/>
<line x1="341.85" y1="351.89" x2="340.15" y2="348.94" stroke="#666" stroke-width="0.35"/>
<line x1="345.18" y1="350.08" x2="343.63" y2="347.05" stroke="#666" stroke-width="0.35"/>
<line x1="348.59" y1="348.45" x2="347.21" y2="345.34" stroke="#666" stroke-width="0.35"/>
<text x="317.30" y="347.70" font-size="6.4" fill="#222" stroke="#222" stroke-width="0.18">chr11</text>
<text x="403.00" y="341.90" font-size="6.4" fill="#222" stroke="#222" stroke-width="0.18">chr5</text>
<text x="277.70" y="402.90" font-size="6.6" font-style="italic" fill="#444" stroke="#444" stroke-width="0.18">UVRAG</text>
<text x="457.90" y="401.00" font-size="6.6" font-style="italic" fill="#444" stroke="#444" stroke-width="0.18">IQGAP2</text>
<text x="421.60" y="486.00" font-size="6.6" font-style="italic" fill="#444" stroke="#444" stroke-width="0.18">PDGFRB</text>
<path d="M320.3,404.9 C356.1,407.3 414,404.2 432.8,401.5" fill="none" stroke="#4c2a60" stroke-width="1.1"/>
<path d="M320.3,404.9 C344.2,407.6 388.4,441.4 404.3,464.3" fill="none" stroke="#4c2a60" stroke-width="1.1"/>
<path d="M432.8,401.5 C403.2,412.3 394.4,441.8 404.3,464.3" fill="none" stroke="#4c2a60" stroke-width="1.1"/>
<text x="79.20" y="519.00" font-size="11.5" font-weight="bold" fill="#000">F</text>
<text x="97.60" y="522.00" font-size="6.3" fill="#222" stroke="#222" stroke-width="0.18">10 kb</text>
<line x1="96.30" y1="524.20" x2="113.60" y2="524.20" stroke="#333" stroke-width="0.9"/>
<line x1="96.30" y1="523.00" x2="96.30" y2="525.40" stroke="#333" stroke-width="0.7"/>
<line x1="113.60" y1="523.00" x2="113.60" y2="525.40" stroke="#333" stroke-width="0.7"/>
<text x="226.90" y="525.60" font-size="6.6" font-style="italic" fill="#333" stroke="#333" stroke-width="0.18">IQGAP2</text>
<text x="434.80" y="524.80" font-size="6.6" font-style="italic" fill="#333" stroke="#333" stroke-width="0.18">PDGFRB</text>
<defs><linearGradient id="g1" x1="0" y1="0" x2="0" y2="1"><stop offset="0" stop-color="#8d8e92"/><stop offset="1" stop-color="#f6f6f6"/></linearGradient><linearGradient id="g2" x1="0" y1="0" x2="0" y2="1"><stop offset="0" stop-color="#9a9aa2"/><stop offset="1" stop-color="#f4f4f6"/></linearGradient></defs>
<path d="M95.2,535.2 L449.2,535.2 L438.5,576.2 L104.4,576.2 Z" fill="url(#g1)"/>
<rect x="95.00" y="528.70" width="354.00" height="3.40" fill="#fcf0c8"/>
<line x1="95.00" y1="530.30" x2="449.00" y2="530.30" stroke="#d8a040" stroke-width="0.8"/>
<rect x="98.45" y="529.00" width="0.70" height="2.60" fill="#c09040"/>
<rect x="106.40" y="529.00" width="0.70" height="2.60" fill="#c09040"/>
<rect x="114.35" y="529.00" width="0.70" height="2.60" fill="#c09040"/>
<rect x="122.30" y="529.00" width="0.70" height="2.60" fill="#c09040"/>
<rect x="130.25" y="529.00" width="0.70" height="2.60" fill="#c09040"/>
<rect x="138.20" y="529.00" width="0.70" height="2.60" fill="#c09040"/>
<rect x="146.15" y="529.00" width="0.70" height="2.60" fill="#c09040"/>
<rect x="154.10" y="529.00" width="0.70" height="2.60" fill="#c09040"/>
<rect x="162.05" y="529.00" width="0.70" height="2.60" fill="#c09040"/>
<rect x="170.00" y="529.00" width="0.70" height="2.60" fill="#c09040"/>
<rect x="177.95" y="529.00" width="0.70" height="2.60" fill="#c09040"/>
<rect x="185.90" y="529.00" width="0.70" height="2.60" fill="#c09040"/>
<rect x="193.85" y="529.00" width="0.70" height="2.60" fill="#c09040"/>
<rect x="201.80" y="529.00" width="0.70" height="2.60" fill="#c09040"/>
<rect x="209.75" y="529.00" width="0.70" height="2.60" fill="#c09040"/>
<rect x="217.70" y="529.00" width="0.70" height="2.60" fill="#c09040"/>
<rect x="225.65" y="529.00" width="0.70" height="2.60" fill="#c09040"/>
<rect x="233.60" y="529.00" width="0.70" height="2.60" fill="#c09040"/>
<rect x="241.55" y="529.00" width="0.70" height="2.60" fill="#c09040"/>
<rect x="249.50" y="529.00" width="0.70" height="2.60" fill="#c09040"/>
<rect x="257.45" y="529.00" width="0.70" height="2.60" fill="#c09040"/>
<rect x="265.40" y="529.00" width="0.70" height="2.60" fill="#c09040"/>
<rect x="273.35" y="529.00" width="0.70" height="2.60" fill="#c09040"/>
<rect x="281.30" y="529.00" width="0.70" height="2.60" fill="#c09040"/>
<rect x="289.25" y="529.00" width="0.70" height="2.60" fill="#c09040"/>
<rect x="297.20" y="529.00" width="0.70" height="2.60" fill="#c09040"/>
<rect x="305.15" y="529.00" width="0.70" height="2.60" fill="#c09040"/>
<rect x="313.10" y="529.00" width="0.70" height="2.60" fill="#c09040"/>
<rect x="321.05" y="529.00" width="0.70" height="2.60" fill="#c09040"/>
<rect x="329.00" y="529.00" width="0.70" height="2.60" fill="#c09040"/>
<rect x="336.95" y="529.00" width="0.70" height="2.60" fill="#c09040"/>
<rect x="344.90" y="529.00" width="0.70" height="2.60" fill="#c09040"/>
<rect x="352.85" y="529.00" width="0.70" height="2.60" fill="#c09040"/>
<rect x="360.80" y="529.00" width="0.70" height="2.60" fill="#c09040"/>
<rect x="368.75" y="529.00" width="0.70" height="2.60" fill="#c09040"/>
<rect x="376.70" y="529.00" width="0.70" height="2.60" fill="#c09040"/>
<rect x="384.65" y="529.00" width="0.70" height="2.60" fill="#c09040"/>
<rect x="392.60" y="529.00" width="0.70" height="2.60" fill="#c09040"/>
<rect x="400.55" y="529.00" width="0.70" height="2.60" fill="#c09040"/>
<rect x="408.50" y="529.00" width="0.70" height="2.60" fill="#c09040"/>
<rect x="416.45" y="529.00" width="0.70" height="2.60" fill="#c09040"/>
<rect x="424.40" y="529.00" width="0.70" height="2.60" fill="#c09040"/>
<rect x="94.80" y="528.10" width="1.80" height="4.40" fill="#f2c060"/>
<rect x="195.00" y="528.10" width="1.60" height="4.40" fill="#f2c060"/>
<rect x="371.20" y="528.10" width="0.80" height="4.40" fill="#f2c060"/>
<rect x="382.60" y="528.10" width="0.80" height="4.40" fill="#f2c060"/>
<rect x="388.40" y="528.10" width="0.80" height="4.40" fill="#f2c060"/>
<rect x="395.20" y="528.10" width="0.80" height="4.40" fill="#f2c060"/>
<rect x="417.40" y="528.10" width="4.20" height="4.40" fill="#f2c060"/>
<rect x="425.90" y="528.10" width="0.80" height="4.40" fill="#f2c060"/>
<rect x="431.90" y="527.90" width="1.10" height="4.80" fill="#d0204a"/>
<rect x="434.00" y="527.90" width="1.20" height="4.80" fill="#d0204a"/>
<rect x="436.50" y="527.90" width="0.90" height="4.80" fill="#d0204a"/>
<rect x="438.80" y="527.90" width="1.20" height="4.80" fill="#d0204a"/>
<rect x="441.00" y="527.90" width="1.20" height="4.80" fill="#d0204a"/>
<rect x="443.50" y="527.90" width="1.00" height="4.80" fill="#d0204a"/>
<rect x="445.60" y="527.90" width="1.00" height="4.80" fill="#d0204a"/>
<rect x="449.20" y="528.30" width="3.50" height="4.00" fill="#c8102e"/>
<rect x="104.40" y="576.10" width="131.80" height="8.90" fill="#f39a1e"/>
<rect x="236.20" y="576.10" width="202.30" height="8.90" fill="#c8203c"/>
<text x="106.60" y="583.50" font-size="6.4" fill="#333" stroke="#333" stroke-width="0.18">1</text>
<text x="174.30" y="583.50" font-size="6.5" text-anchor="middle" font-style="italic" fill="#4a3010" stroke="#4a3010" stroke-width="0.18">IQGAP2</text>
<text x="234.60" y="583.50" font-size="6.9" text-anchor="end" fill="#2a2a2a" stroke="#2a2a2a" stroke-width="0.18">346</text>
<text x="237.10" y="583.50" font-size="6.7" fill="#fff">411</text>
<text x="339.60" y="583.50" font-size="6.5" text-anchor="middle" font-style="italic" fill="#fbe6ea">PDGFRB</text>
<text x="437.70" y="583.50" font-size="6.5" text-anchor="end" fill="#fff">946</text>
<path d="M236,586 L421.6,606.3 L122.4,606.3 Z" fill="url(#g2)"/>
<line x1="98.00" y1="609.30" x2="122.40" y2="609.30" stroke="#3c3c86" stroke-width="0.8"/>
<line x1="421.60" y1="609.30" x2="444.00" y2="609.30" stroke="#3c3c86" stroke-width="0.8"/>
<path d="M446.5,609.3 L442.5,607.5999999999999 L442.5,611.0 Z" fill="#3c3c86"/>
<rect x="107.70" y="608.10" width="0.60" height="2.40" fill="#3c3c86"/>
<rect x="114.20" y="608.10" width="0.60" height="2.40" fill="#3c3c86"/>
<rect x="426.70" y="608.10" width="0.60" height="2.40" fill="#3c3c86"/>
<rect x="431.70" y="608.10" width="0.60" height="2.40" fill="#3c3c86"/>
<rect x="436.70" y="608.10" width="0.60" height="2.40" fill="#3c3c86"/>
<rect x="122.40" y="606.30" width="299.20" height="5.60" fill="#5252a0" stroke="#2c2c74" stroke-width="0.6"/>
<text x="124.45" y="610.70" font-size="4.2" text-anchor="middle" font-weight="bold" fill="#d4d4ee">K</text>
<text x="128.55" y="610.70" font-size="4.2" text-anchor="middle" font-weight="bold" fill="#d4d4ee">A</text>
<text x="132.65" y="610.70" font-size="4.2" text-anchor="middle" font-weight="bold" fill="#d4d4ee">A</text>
<text x="136.75" y="610.70" font-size="4.2" text-anchor="middle" font-weight="bold" fill="#d4d4ee">V</text>
<text x="140.84" y="610.70" font-size="4.2" text-anchor="middle" font-weight="bold" fill="#d4d4ee">Q</text>
<text x="144.94" y="610.70" font-size="4.2" text-anchor="middle" font-weight="bold" fill="#d4d4ee">H</text>
<text x="149.04" y="610.70" font-size="4.2" text-anchor="middle" font-weight="bold" fill="#d4d4ee">I</text>
<text x="153.14" y="610.70" font-size="4.2" text-anchor="middle" font-weight="bold" fill="#d4d4ee">N</text>
<text x="157.24" y="610.70" font-size="4.2" text-anchor="middle" font-weight="bold" fill="#d4d4ee">A</text>
<text x="161.34" y="610.70" font-size="4.2" text-anchor="middle" font-weight="bold" fill="#d4d4ee">V</text>
<text x="165.44" y="610.70" font-size="4.2" text-anchor="middle" font-weight="bold" fill="#d4d4ee">I</text>
<text x="169.53" y="610.70" font-size="4.2" text-anchor="middle" font-weight="bold" fill="#d4d4ee">P</text>
<text x="173.63" y="610.70" font-size="4.2" text-anchor="middle" font-weight="bold" fill="#d4d4ee">I</text>
<text x="177.73" y="610.70" font-size="4.2" text-anchor="middle" font-weight="bold" fill="#d4d4ee">G</text>
<text x="181.83" y="610.70" font-size="4.2" text-anchor="middle" font-weight="bold" fill="#d4d4ee">D</text>
<text x="185.93" y="610.70" font-size="4.2" text-anchor="middle" font-weight="bold" fill="#d4d4ee">P</text>
<text x="190.03" y="610.70" font-size="4.2" text-anchor="middle" font-weight="bold" fill="#d4d4ee">I</text>
<text x="194.13" y="610.70" font-size="4.2" text-anchor="middle" font-weight="bold" fill="#d4d4ee">N</text>
<text x="198.22" y="610.70" font-size="4.2" text-anchor="middle" font-weight="bold" fill="#d4d4ee">T</text>
<text x="202.32" y="610.70" font-size="4.2" text-anchor="middle" font-weight="bold" fill="#d4d4ee">L</text>
<text x="206.42" y="610.70" font-size="4.2" text-anchor="middle" font-weight="bold" fill="#d4d4ee">L</text>
<text x="210.52" y="610.70" font-size="4.2" text-anchor="middle" font-weight="bold" fill="#d4d4ee">A</text>
<text x="214.62" y="610.70" font-size="4.2" text-anchor="middle" font-weight="bold" fill="#d4d4ee">L</text>
<text x="218.72" y="610.70" font-size="4.2" text-anchor="middle" font-weight="bold" fill="#d4d4ee">K</text>
<text x="222.82" y="610.70" font-size="4.2" text-anchor="middle" font-weight="bold" fill="#d4d4ee">K</text>
<text x="226.92" y="610.70" font-size="4.2" text-anchor="middle" font-weight="bold" fill="#d4d4ee">P</text>
<text x="231.01" y="610.70" font-size="4.2" text-anchor="middle" font-weight="bold" fill="#d4d4ee">I</text>
<text x="235.11" y="610.70" font-size="4.2" text-anchor="middle" font-weight="bold" fill="#d4d4ee">A</text>
<text x="239.21" y="610.70" font-size="4.2" text-anchor="middle" font-weight="bold" fill="#d4d4ee">Q</text>
<text x="243.31" y="610.70" font-size="4.2" text-anchor="middle" font-weight="bold" fill="#d4d4ee">L</text>
<text x="247.41" y="610.70" font-size="4.2" text-anchor="middle" font-weight="bold" fill="#d4d4ee">P</text>
<text x="251.51" y="610.70" font-size="4.2" text-anchor="middle" font-weight="bold" fill="#d4d4ee">A</text>
<text x="255.61" y="610.70" font-size="4.2" text-anchor="middle" font-weight="bold" fill="#d4d4ee">V</text>
<text x="259.70" y="610.70" font-size="4.2" text-anchor="middle" font-weight="bold" fill="#d4d4ee">F</text>
<text x="263.80" y="610.70" font-size="4.2" text-anchor="middle" font-weight="bold" fill="#d4d4ee">F</text>
<text x="267.90" y="610.70" font-size="4.2" text-anchor="middle" font-weight="bold" fill="#d4d4ee">A</text>
<text x="272.00" y="610.70" font-size="4.2" text-anchor="middle" font-weight="bold" fill="#d4d4ee">A</text>
<text x="276.10" y="610.70" font-size="4.2" text-anchor="middle" font-weight="bold" fill="#d4d4ee">M</text>
<text x="280.20" y="610.70" font-size="4.2" text-anchor="middle" font-weight="bold" fill="#d4d4ee">F</text>
<text x="284.30" y="610.70" font-size="4.2" text-anchor="middle" font-weight="bold" fill="#d4d4ee">Q</text>
<text x="288.39" y="610.70" font-size="4.2" text-anchor="middle" font-weight="bold" fill="#d4d4ee">N</text>
<text x="292.49" y="610.70" font-size="4.2" text-anchor="middle" font-weight="bold" fill="#d4d4ee">V</text>
<text x="296.59" y="610.70" font-size="4.2" text-anchor="middle" font-weight="bold" fill="#d4d4ee">S</text>
<text x="300.69" y="610.70" font-size="4.2" text-anchor="middle" font-weight="bold" fill="#d4d4ee">S</text>
<text x="304.79" y="610.70" font-size="4.2" text-anchor="middle" font-weight="bold" fill="#d4d4ee">D</text>
<text x="308.89" y="610.70" font-size="4.2" text-anchor="middle" font-weight="bold" fill="#d4d4ee">Q</text>
<text x="312.99" y="610.70" font-size="4.2" text-anchor="middle" font-weight="bold" fill="#d4d4ee">H</text>
<text x="317.08" y="610.70" font-size="4.2" text-anchor="middle" font-weight="bold" fill="#d4d4ee">E</text>
<text x="321.18" y="610.70" font-size="4.2" text-anchor="middle" font-weight="bold" fill="#d4d4ee">I</text>
<text x="325.28" y="610.70" font-size="4.2" text-anchor="middle" font-weight="bold" fill="#d4d4ee">I</text>
<text x="329.38" y="610.70" font-size="4.2" text-anchor="middle" font-weight="bold" fill="#d4d4ee">Y</text>
<text x="333.48" y="610.70" font-size="4.2" text-anchor="middle" font-weight="bold" fill="#d4d4ee">V</text>
<text x="337.58" y="610.70" font-size="4.2" text-anchor="middle" font-weight="bold" fill="#d4d4ee">D</text>
<text x="341.68" y="610.70" font-size="4.2" text-anchor="middle" font-weight="bold" fill="#d4d4ee">P</text>
<text x="345.78" y="610.70" font-size="4.2" text-anchor="middle" font-weight="bold" fill="#d4d4ee">M</text>
<text x="349.87" y="610.70" font-size="4.2" text-anchor="middle" font-weight="bold" fill="#d4d4ee">Q</text>
<text x="353.97" y="610.70" font-size="4.2" text-anchor="middle" font-weight="bold" fill="#d4d4ee">L</text>
<text x="358.07" y="610.70" font-size="4.2" text-anchor="middle" font-weight="bold" fill="#d4d4ee">P</text>
<text x="362.17" y="610.70" font-size="4.2" text-anchor="middle" font-weight="bold" fill="#d4d4ee">E</text>
<text x="366.27" y="610.70" font-size="4.2" text-anchor="middle" font-weight="bold" fill="#d4d4ee">D</text>
<text x="370.37" y="610.70" font-size="4.2" text-anchor="middle" font-weight="bold" fill="#d4d4ee">S</text>
<text x="374.47" y="610.70" font-size="4.2" text-anchor="middle" font-weight="bold" fill="#d4d4ee">T</text>
<text x="378.56" y="610.70" font-size="4.2" text-anchor="middle" font-weight="bold" fill="#d4d4ee">W</text>
<text x="382.66" y="610.70" font-size="4.2" text-anchor="middle" font-weight="bold" fill="#d4d4ee">E</text>
<text x="386.76" y="610.70" font-size="4.2" text-anchor="middle" font-weight="bold" fill="#d4d4ee">L</text>
<text x="390.86" y="610.70" font-size="4.2" text-anchor="middle" font-weight="bold" fill="#d4d4ee">P</text>
<text x="394.96" y="610.70" font-size="4.2" text-anchor="middle" font-weight="bold" fill="#d4d4ee">R</text>
<text x="399.06" y="610.70" font-size="4.2" text-anchor="middle" font-weight="bold" fill="#d4d4ee">D</text>
<text x="403.16" y="610.70" font-size="4.2" text-anchor="middle" font-weight="bold" fill="#d4d4ee">Q</text>
<text x="407.25" y="610.70" font-size="4.2" text-anchor="middle" font-weight="bold" fill="#d4d4ee">L</text>
<text x="411.35" y="610.70" font-size="4.2" text-anchor="middle" font-weight="bold" fill="#d4d4ee">V</text>
<text x="415.45" y="610.70" font-size="4.2" text-anchor="middle" font-weight="bold" fill="#d4d4ee">L</text>
<text x="419.55" y="610.70" font-size="4.2" text-anchor="middle" font-weight="bold" fill="#d4d4ee">G</text>
<line x1="292.90" y1="603.80" x2="292.90" y2="618.30" stroke="#c83050" stroke-width="1"/>
<text x="188.60" y="622.60" font-size="6.6" text-anchor="middle" font-style="italic" fill="#333" stroke="#333" stroke-width="0.18">IQGAP2</text>
<text x="189.40" y="630.60" font-size="6.3" text-anchor="middle" fill="#333" stroke="#333" stroke-width="0.18">exon 10</text>
<text x="352.60" y="622.80" font-size="6.6" text-anchor="middle" font-style="italic" fill="#333" stroke="#333" stroke-width="0.18">PDGFRB</text>
<text x="352.60" y="630.80" font-size="6.3" text-anchor="middle" fill="#333" stroke="#333" stroke-width="0.18">exon 12</text>
<rect x="0.00" y="0.00" width="520.00" height="1.00" fill="#5e5e5e"/>
<rect x="0.00" y="0.00" width="1.00" height="639.00" fill="#5a5a5a"/>
<rect x="519.00" y="0.00" width="1.00" height="639.00" fill="#5a5a5a"/>
<rect x="0.00" y="637.60" width="520.00" height="1.40" fill="#4a4a4a"/>
</svg>
</body></html>
